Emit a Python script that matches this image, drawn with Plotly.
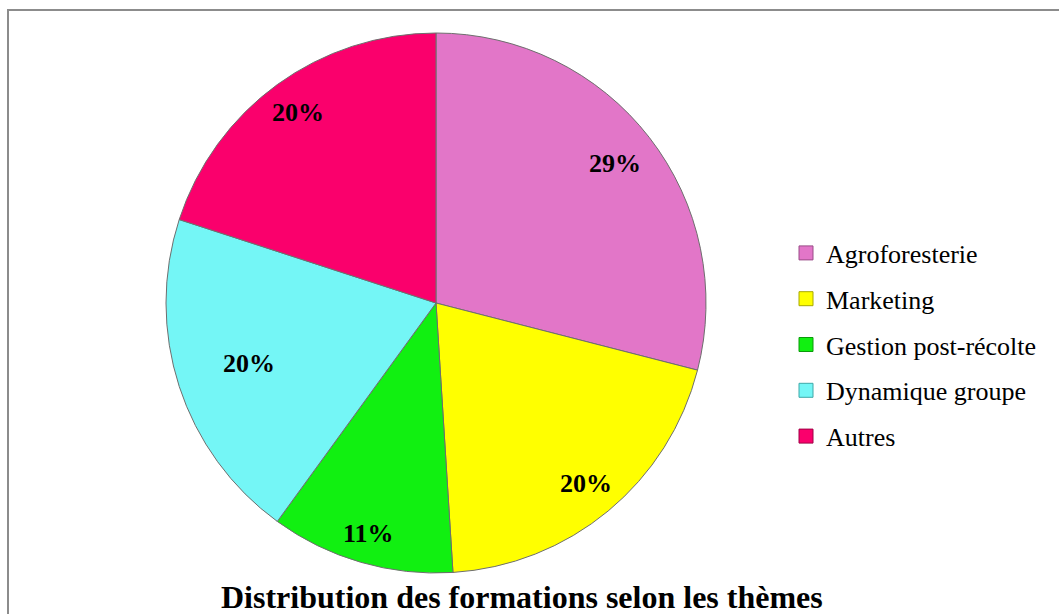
import math
import plotly.graph_objects as go

# Data
themes = ["Agroforesterie", "Marketing", "Gestion post-récolte", "Dynamique groupe", "Autres"]
shares = [29, 20, 11, 20, 20]
colors = ["#E276C8", "#FFFF00", "#11F011", "#74F6F6", "#FA006C"]
edge_colors = ["#9a4c88", "#a8a800", "#0a9a0a", "#3fa8a8", "#a00046"]

# label distance from centre (fraction of radius), as in the original "best fit"
label_r = [0.84, 0.87, 0.89, 0.73, 0.87]

W, H = 1059, 614
pie_x = (165 / W, 707 / W)
pie_y = (1 - 573 / H, 1 - 33 / H)

fig = go.Figure()
fig.add_trace(go.Pie(
    labels=themes,
    values=shares,
    sort=False,
    direction="clockwise",
    rotation=0,
    marker=dict(colors=colors, line=dict(color="#6e6e6e", width=1)),
    textinfo="none",
    showlegend=False,
    domain=dict(x=list(pie_x), y=list(pie_y)),
    hoverinfo="label+percent",
))

# percentage labels placed along each slice's middle angle
cx_px = (pie_x[0] + pie_x[1]) / 2 * W
cy_px = (1 - (pie_y[0] + pie_y[1]) / 2) * H
radius = min((pie_x[1] - pie_x[0]) * W, (pie_y[1] - pie_y[0]) * H) / 2
total = sum(shares)
cum = 0
for v, f in zip(shares, label_r):
    mid = math.radians((cum + v / 2) / total * 360)
    cum += v
    px = cx_px + radius * f * math.sin(mid)
    py = cy_px - radius * f * math.cos(mid)
    fig.add_annotation(
        text=f"<b>{round(v / total * 100)}%</b>",
        x=px / W, y=1 - py / H, xref="paper", yref="paper",
        showarrow=False, xanchor="center", yanchor="middle",
        font=dict(family="Liberation Serif", size=26, color="black"),
    )

# legend entries (one group each so the spacing can be opened up)
for name, c, ec in zip(themes, colors, edge_colors):
    fig.add_trace(go.Scatter(
        x=[None], y=[None], mode="markers", name=name, legendgroup=name,
        marker=dict(symbol="square", size=14, color=c, line=dict(color=ec, width=1)),
        showlegend=True, hoverinfo="skip",
    ))

fig.update_layout(
    width=W, height=H,
    margin=dict(l=0, r=0, t=0, b=0),
    paper_bgcolor="white",
    plot_bgcolor="white",
    xaxis=dict(visible=False),
    yaxis=dict(visible=False),
    legend=dict(
        x=786 / W, y=1 - 345 / H, xanchor="left", yanchor="middle",
        font=dict(family="Liberation Serif", size=26, color="black"),
        itemwidth=30, tracegroupgap=9, bgcolor="rgba(0,0,0,0)",
    ),
    font=dict(family="Liberation Serif"),
)

# bottom title
fig.add_annotation(
    text="<b>Distribution des formations selon les thèmes</b>",
    x=522 / W, y=1 - 597 / H, xref="paper", yref="paper",
    xanchor="center", yanchor="middle", showarrow=False,
    font=dict(family="Liberation Serif", size=32, color="black"),
)

# chart frame
fig.add_shape(type="rect", xref="paper", yref="paper",
              x0=8 / W, x1=1.01, y0=-0.02, y1=1 - 10 / H,
              line=dict(color="#8c8c8c", width=2))

fig.write_html("out.html", config={"displayModeBar": False},
               post_script="document.body.style.margin='0';")
